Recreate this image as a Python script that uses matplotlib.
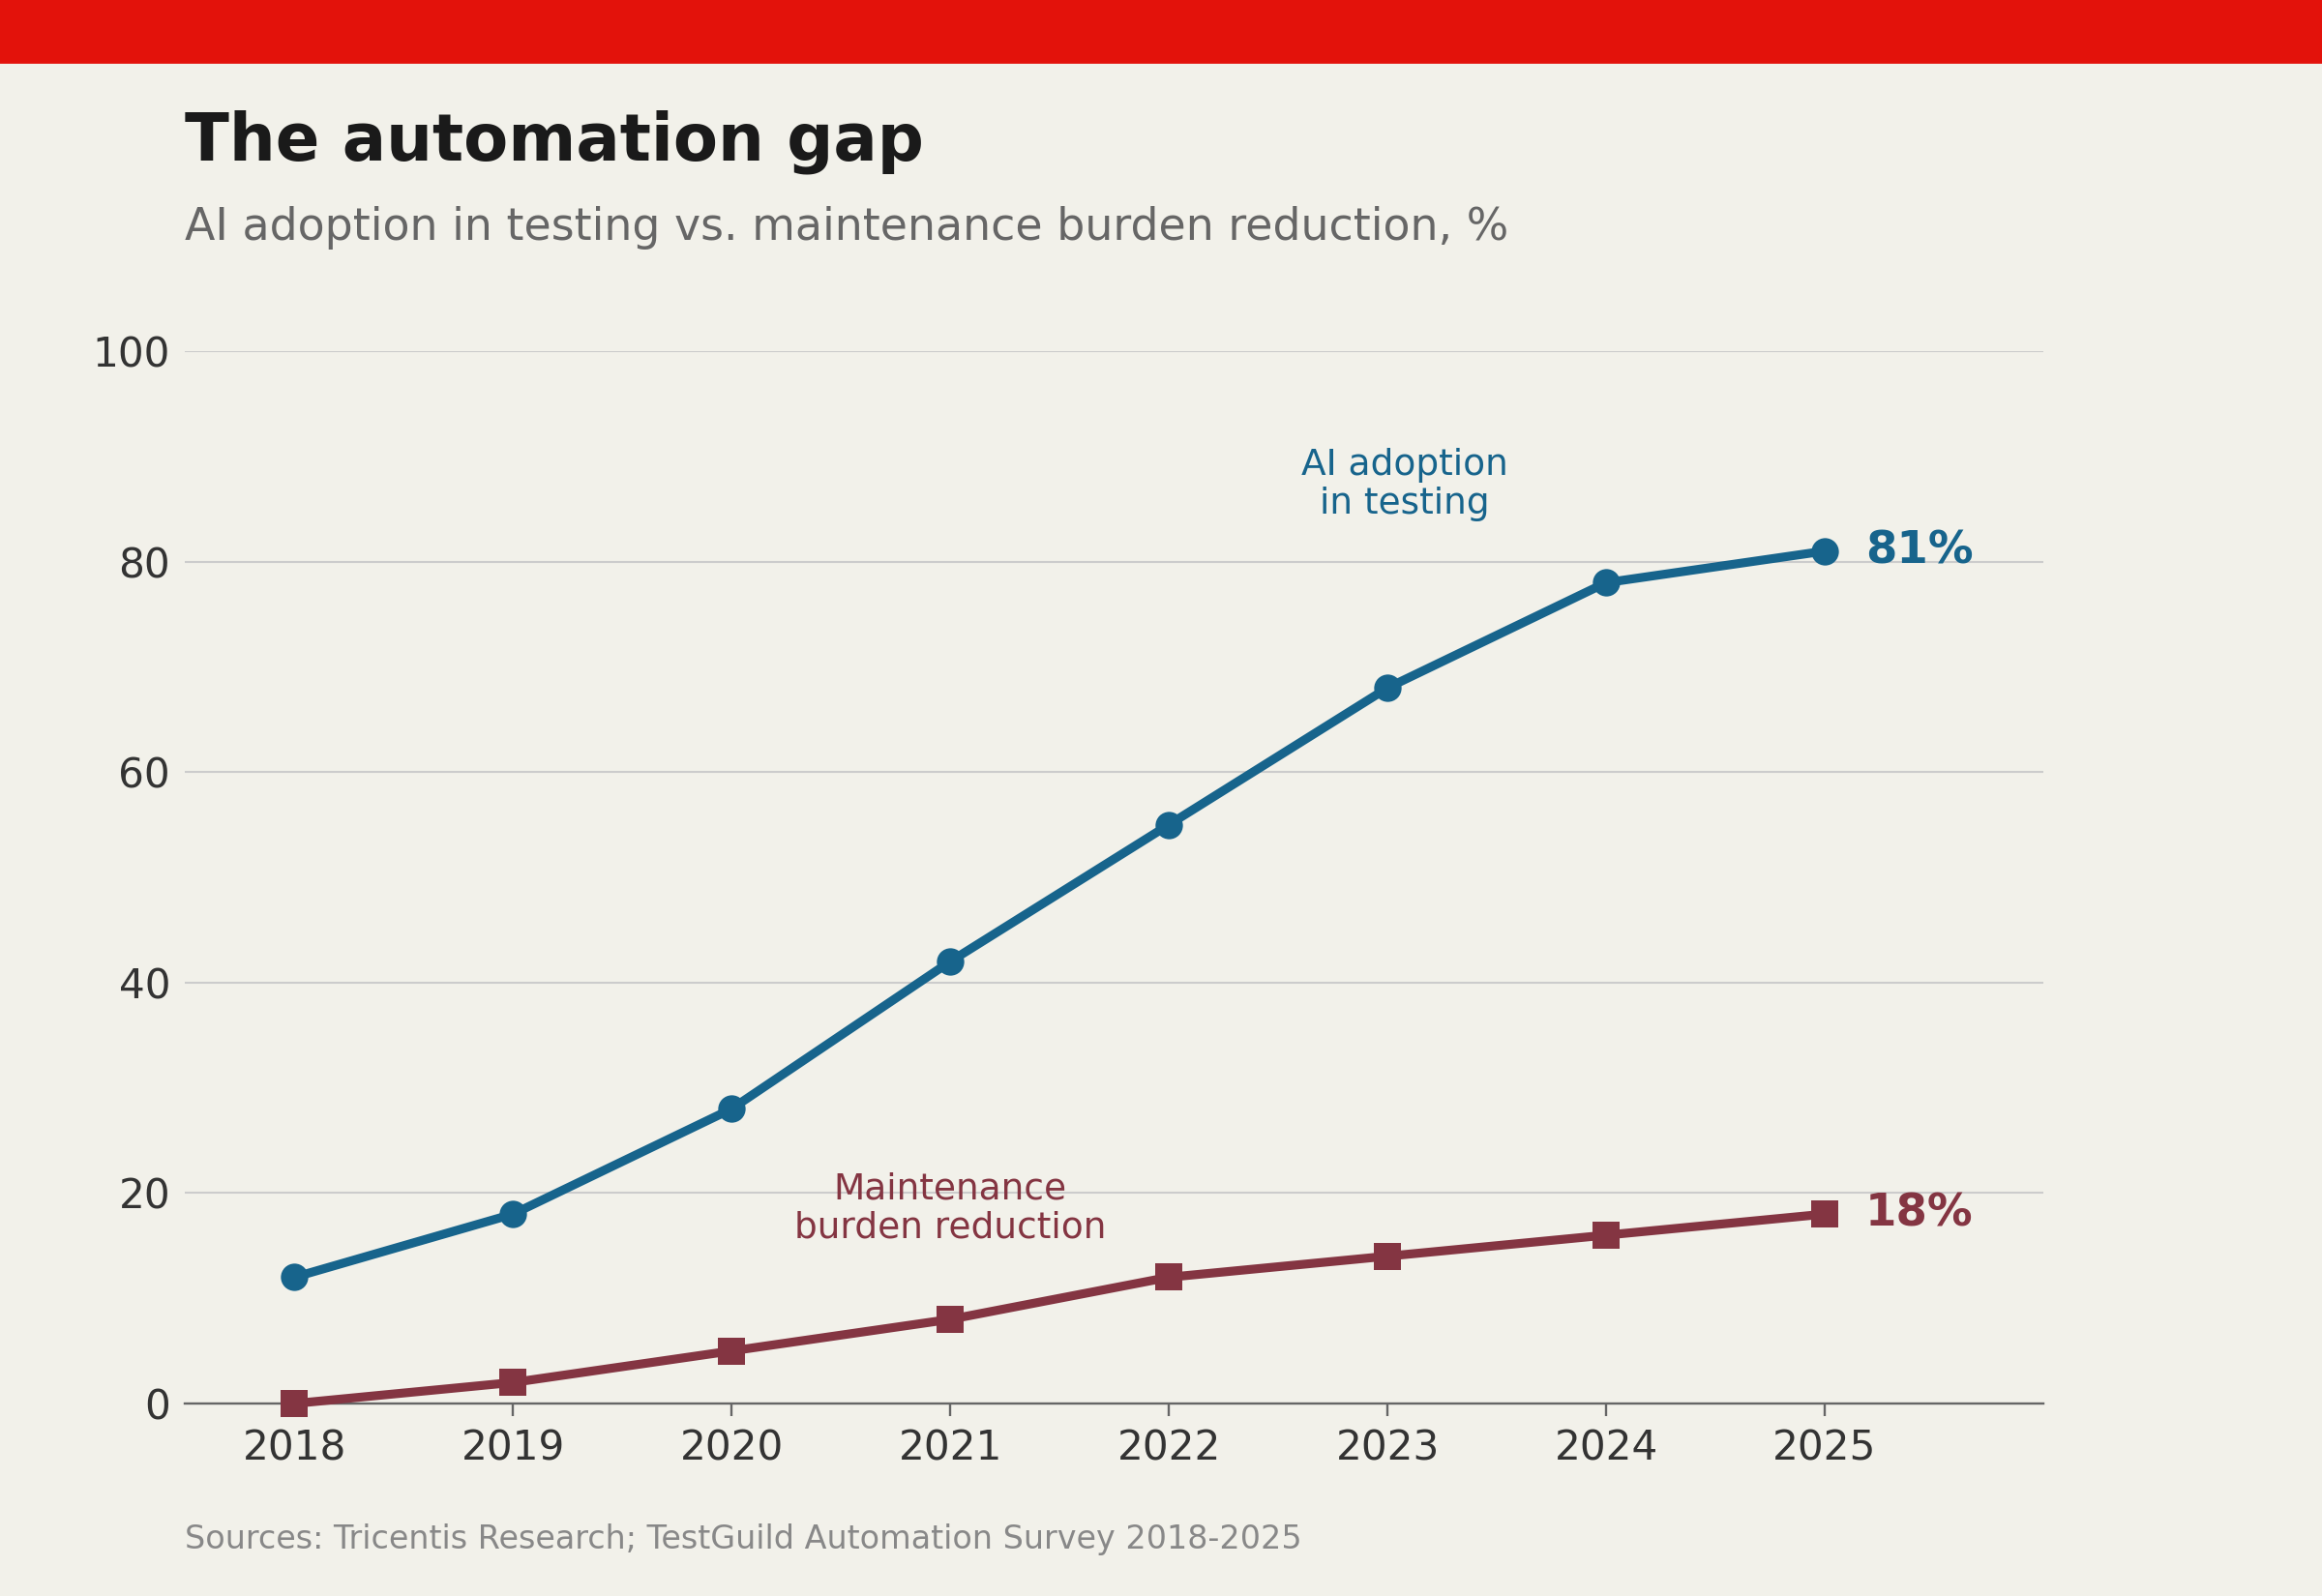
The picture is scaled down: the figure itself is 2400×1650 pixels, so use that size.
import matplotlib
matplotlib.use("Agg")
import matplotlib.pyplot as plt
from matplotlib.patches import Rectangle

years = [2018, 2019, 2020, 2021, 2022, 2023, 2024, 2025]
ai_adoption = [12, 18, 28, 42, 55, 68, 78, 81]
maintenance_reduction = [0, 2, 5, 8, 12, 14, 16, 18]
y_ticks = [0, 20, 40, 60, 80, 100]

BG = "#F2F1EA"
RED = "#E3120B"
BLUE = "#17648C"
MAROON = "#843542"

plt.rcParams['font.family'] = ['DejaVu Sans']

fig = plt.figure(figsize=(12, 8.25), dpi=200, facecolor=BG)
ax = fig.add_axes([0.0797, 0.1206, 0.8003, 0.6594])
ax.set_facecolor(BG)

fig.patches.append(Rectangle((0, 1 - 0.0388), 1, 0.0388, transform=fig.transFigure,
                             color=RED, zorder=0))

ax.plot(years, ai_adoption, color=BLUE, lw=3.3, marker='o', ms=10.2,
        markeredgewidth=0, zorder=4, clip_on=False, solid_capstyle='round')
ax.plot(years, maintenance_reduction, color=MAROON, lw=3.3, marker='s', ms=10,
        markeredgewidth=0, zorder=4, clip_on=False, solid_capstyle='round')

ax.set_xlim(2017.5, 2026.0)
ax.set_ylim(0, 100)
ax.set_yticks(y_ticks)
ax.set_xticks(years)
ax.set_xticklabels([str(y) for y in years])

ax.grid(axis='y', color='#CCCCCC', lw=0.75, zorder=1)
ax.set_axisbelow(True)
for s in ['top', 'right', 'left']:
    ax.spines[s].set_visible(False)
ax.spines['bottom'].set_color('#666666')
ax.spines['bottom'].set_linewidth(0.85)
ax.spines['bottom'].set_zorder(3)

ax.tick_params(axis='y', length=0, pad=5.5, labelsize=15.2, labelcolor='#333333')
ax.tick_params(axis='x', length=4.7, width=0.85, color='#666666', pad=4.6,
               labelsize=15.2, labelcolor='#333333')

# end labels
ax.annotate(f"{ai_adoption[-1]}%", xy=(years[-1], ai_adoption[-1]), xytext=(15, 0),
            textcoords='offset points', va='center', ha='left', fontsize=16.8,
            fontweight='bold', color=BLUE)
ax.annotate(f"{maintenance_reduction[-1]}%", xy=(years[-1], maintenance_reduction[-1]),
            xytext=(15, 0), textcoords='offset points', va='center', ha='left',
            fontsize=16.8, fontweight='bold', color=MAROON)

# series labels
ax.text(2023.08, 87.3, "AI adoption\nin testing", ha='center', va='center',
        fontsize=13.5, color=BLUE, linespacing=1.15)
ax.text(2021.0, 18.5, "Maintenance\nburden reduction", ha='center', va='center',
        fontsize=13.5, color=MAROON, linespacing=1.15)

fig.text(0.0795, 0.8994, "The automation gap", fontsize=24.2, fontweight='bold',
         color='#1A1A1A', ha='left', va='baseline')
fig.text(0.0797, 0.850, "AI adoption in testing vs. maintenance burden reduction, %",
         fontsize=16.5, color='#666666', ha='left', va='baseline')
fig.text(0.0797, 0.0297, "Sources: Tricentis Research; TestGuild Automation Survey 2018-2025",
         fontsize=12, color='#888888', ha='left', va='baseline')

fig.savefig("out.png", dpi=200, facecolor=BG)
